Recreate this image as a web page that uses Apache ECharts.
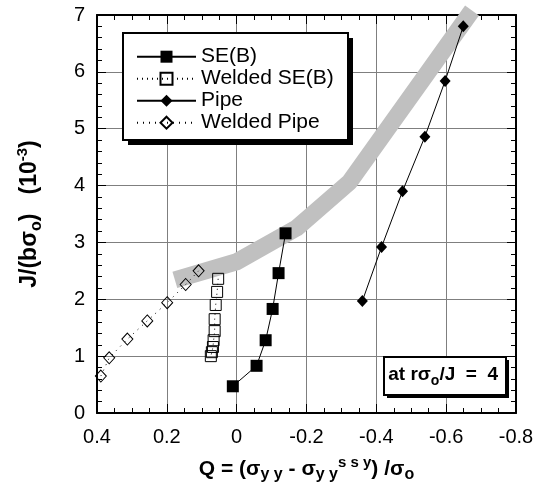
<!DOCTYPE html>
<html><head><meta charset="utf-8">
<script src="https://cdn.jsdelivr.net/npm/echarts@6/dist/echarts.min.js"></script>
<style>html,body{margin:0;padding:0;background:#fff}#c{width:546px;height:493px}</style>
</head><body><div id="c"></div>
<script>
// ---- data (Q, J) ----
const sebQ  = [0.011, -0.057, -0.083, -0.103, -0.120, -0.140];
const sebJ  = [0.47, 0.83, 1.28, 1.83, 2.46, 3.16];
const wsebQ = [0.053, 0.056, 0.060, 0.063, 0.063, 0.066, 0.068, 0.071, 0.074];
const wsebJ = [2.36, 2.13, 1.90, 1.65, 1.44, 1.28, 1.16, 1.07, 1.00];
const pipeQ = [-0.360, -0.415, -0.475, -0.539, -0.597, -0.649];
const pipeJ = [1.97, 2.92, 3.90, 4.86, 5.84, 6.80];
const wpipeQ = [0.389, 0.365, 0.313, 0.256, 0.199, 0.146, 0.109];
const wpipeJ = [0.65, 0.97, 1.30, 1.62, 1.94, 2.26, 2.50];
const bandQ = [0.177, 0.0, -0.171, -0.323, -0.674];
const bandJ = [2.34, 2.66, 3.25, 4.06, 7.08];
const seriesNames = ['SE(B)', 'Welded SE(B)', 'Pipe', 'Welded Pipe'];
const xMin = -0.8, xMax = 0.4, xStep = 0.2;
const yMin = 0, yMax = 7, yStep = 1;

const zip = (a, b) => a.map((v, i) => [v, b[i]]);
const FONT = 'Liberation Sans, Arial, sans-serif';

const chart = echarts.init(document.getElementById('c'), null, {renderer: 'canvas'});

const axisCommon = {
  axisLine: {show: true, onZero: false, lineStyle: {color: '#000', width: 2}},
  axisTick: {show: true, inside: true, length: 9, lineStyle: {color: '#000', width: 1}},
  minorTick: {show: true, length: 5, lineStyle: {color: '#000', width: 1}},
};

const option = {
  backgroundColor: '#fff',
  animation: false,
  grid: {left: 97, right: 30, top: 15, bottom: 80, containLabel: false},
  xAxis: [
    Object.assign({
      type: 'value', min: xMin, max: xMax, interval: xStep, inverse: true, position: 'bottom',
      axisLabel: {color: '#000', fontSize: 20, fontFamily: FONT, margin: 14},
      splitLine: {show: true, lineStyle: {color: '#7f7f7f', width: 1}},
      name: '{b|Q = (σ}{sub|y y}{b| - σ}{sub|y y}{sup|s s y}{b|) /σ}{sub|o}',
      nameLocation: 'middle', nameGap: 42,
      nameTextStyle: {rich: {
        b: {fontSize: 21, fontWeight: 'bold', fontFamily: FONT, color: '#000', lineHeight: 28, verticalAlign: 'middle'},
        sub: {fontSize: 16, fontWeight: 'bold', fontFamily: FONT, color: '#000', lineHeight: 14, verticalAlign: 'bottom'},
        sup: {fontSize: 15, fontWeight: 'bold', fontFamily: FONT, color: '#000', lineHeight: 14, verticalAlign: 'top'}
      }}
    }, axisCommon, {minorTick: Object.assign({}, axisCommon.minorTick, {splitNumber: 4})}),
    Object.assign({
      type: 'value', min: xMin, max: xMax, interval: xStep, inverse: true, position: 'top',
      axisLabel: {show: false}, splitLine: {show: false}
    }, axisCommon, {minorTick: Object.assign({}, axisCommon.minorTick, {splitNumber: 4})})
  ],
  yAxis: [
    Object.assign({
      type: 'value', min: yMin, max: yMax, interval: yStep, position: 'left',
      axisLabel: {color: '#000', fontSize: 20, fontFamily: FONT, margin: 12},
      splitLine: {show: true, lineStyle: {color: '#7f7f7f', width: 1}},
      name: '{b|J/(bσ}{sub|o}{b|)   (10}{sup|-3}{b|)}',
      nameLocation: 'middle', nameRotate: 90, nameGap: 52,
      nameTextStyle: {rich: {
        b: {fontSize: 23, fontWeight: 'bold', fontFamily: FONT, color: '#000', lineHeight: 30, verticalAlign: 'middle'},
        sub: {fontSize: 16, fontWeight: 'bold', fontFamily: FONT, color: '#000', lineHeight: 15, verticalAlign: 'bottom'},
        sup: {fontSize: 15, fontWeight: 'bold', fontFamily: FONT, color: '#000', lineHeight: 15, verticalAlign: 'top'}
      }}
    }, axisCommon, {minorTick: Object.assign({}, axisCommon.minorTick, {splitNumber: 5})}),
    Object.assign({
      type: 'value', min: yMin, max: yMax, interval: yStep, position: 'right',
      axisLabel: {show: false}, splitLine: {show: false}
    }, axisCommon, {minorTick: Object.assign({}, axisCommon.minorTick, {splitNumber: 5})})
  ],
  legend: {
    data: seriesNames, orient: 'vertical', left: 136, top: 45.7, padding: 0,
    itemWidth: 59, itemHeight: 15, itemGap: 0, selectedMode: false, z: 10,
    textStyle: {fontSize: 21, fontFamily: FONT, color: '#000', lineHeight: 22}
  },
  graphic: [
    {type: 'rect', z: 5, silent: true, shape: {x: 128, y: 38, width: 225, height: 107}, style: {fill: '#000'}},
    {type: 'rect', z: 6, silent: true, shape: {x: 123, y: 33, width: 225, height: 107}, style: {fill: '#fff', stroke: '#000', lineWidth: 2}},
    {type: 'rect', z: 5, silent: true, shape: {x: 387, y: 360, width: 122, height: 38}, style: {fill: '#000'}},
    {type: 'rect', z: 6, silent: true, shape: {x: 384, y: 357, width: 122, height: 38}, style: {fill: '#fff', stroke: '#000', lineWidth: 2}},
    {type: 'text', z: 7, silent: true, x: 498, y: 375, style: {
      text: '{b|at rσ}{sub|o}{b|/J  =  4}', align: 'right', verticalAlign: 'middle',
      rich: {
        b: {fontSize: 19, fontWeight: 'bold', fontFamily: FONT, fill: '#000', lineHeight: 26, verticalAlign: 'middle'},
        sub: {fontSize: 14, fontWeight: 'bold', fontFamily: FONT, fill: '#000', lineHeight: 12, verticalAlign: 'bottom'}
      }
    }}
  ],
  series: [
    {type: 'line', name: 'band', data: zip(bandQ, bandJ), symbol: 'none', silent: true, clip: false, z: 1,
     lineStyle: {color: '#c0c0c0', width: 17, cap: 'butt', join: 'round'}},
    {type: 'line', name: seriesNames[0], data: zip(sebQ, sebJ), symbol: 'rect', symbolSize: 12, z: 3,
     lineStyle: {color: '#000', width: 1}, itemStyle: {color: '#000'}},
    {type: 'line', name: seriesNames[1], data: zip(wsebQ, wsebJ), symbol: 'rect', symbolSize: 11, z: 3,
     lineStyle: {color: '#000', width: 1, type: [1, 4]}, itemStyle: {color: 'rgba(255,255,255,0)', borderColor: '#000', borderWidth: 1}},
    {type: 'line', name: seriesNames[2], data: zip(pipeQ, pipeJ), symbol: 'diamond', symbolSize: [11, 12], z: 3,
     lineStyle: {color: '#000', width: 1}, itemStyle: {color: '#000'}},
    {type: 'line', name: seriesNames[3], data: zip(wpipeQ, wpipeJ), symbol: 'diamond', symbolSize: [11, 12], z: 3,
     lineStyle: {color: '#000', width: 1, type: [1, 5]}, itemStyle: {color: 'rgba(255,255,255,0)', borderColor: '#000', borderWidth: 1}}
  ]
};
chart.setOption(option);
</script></body></html>
